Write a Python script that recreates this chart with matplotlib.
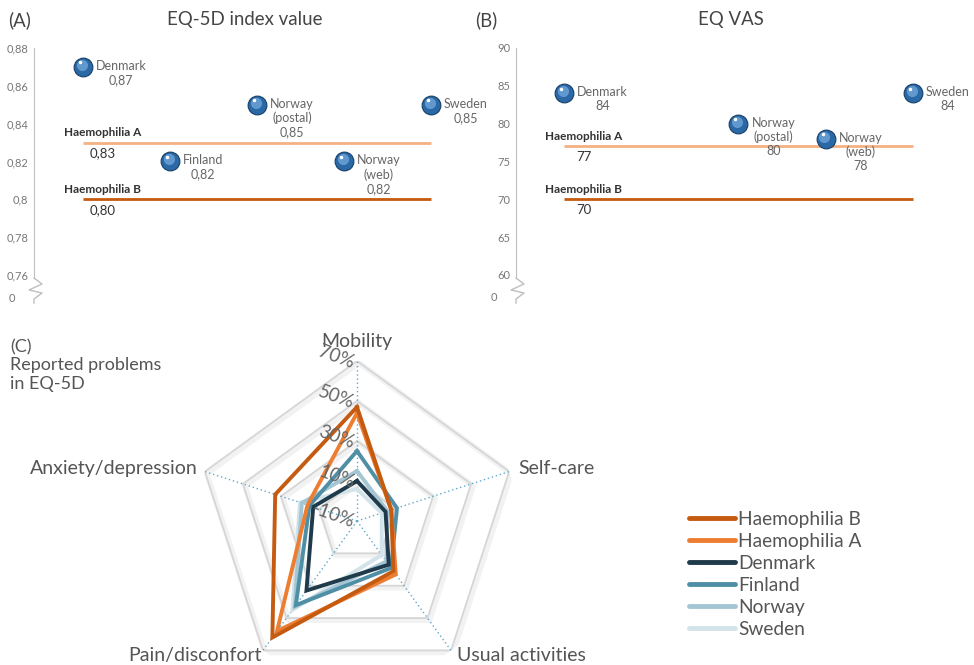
import matplotlib
matplotlib.use('Agg')
import matplotlib.pyplot as plt
import matplotlib.transforms as mtransforms
import matplotlib.patheffects as pe
from matplotlib.lines import Line2D
import numpy as np

plt.rcParams['font.family'] = ['Lato', 'DejaVu Sans']

# (A) EQ-5D index value / (B) EQ VAS
sites = ['Denmark', 'Finland', 'Norway\n(postal)', 'Norway\n(web)', 'Sweden']
index_values = [0.87, 0.82, 0.85, 0.82, 0.85]
vas_values = [84, None, 80, 78, 84]          # no VAS for Finland
haemo_groups = ['Haemophilia A', 'Haemophilia B']
haemo_index = [0.83, 0.80]
haemo_vas = [77, 70]
haemo_colors = ['#F4B183', '#C55A11']

index_ticks = [0.76, 0.78, 0.80, 0.82, 0.84, 0.86, 0.88]
index_ticklabels = ['0,76', '0,78', '0,8', '0,82', '0,84', '0,86', '0,88']
vas_ticks = [60, 65, 70, 75, 80, 85, 90]

# (C) reported problems (%)
dimensions = ['Mobility', 'Self-care', 'Usual activities', 'Pain/disconfort', 'Anxiety/depression']
groups = ['Haemophilia B', 'Haemophilia A', 'Denmark', 'Finland', 'Norway', 'Sweden']
haemo_b = [47, 8, 21, 62, 33]
haemo_a = [44, 8, 23, 58, 16]
denmark = [10, 5, 17, 33, 13]
finland = [25, 11, 19, 42, 15]
norway = [15, 6, 15, 43, 19]
sweden = [6, 3, 11, 45, 20]
group_colors = ['#C55A11', '#ED7D31', '#1F3A4A', '#4F8FA6', '#A4C6D4', '#D2E3EA']
radar_rings = [-10, 10, 30, 50, 70]

W, H = 974, 665
fig = plt.figure(figsize=(W / 100, H / 100), dpi=100)


def fx(px):
    return px / W


def fy(py):
    return 1 - py / H


def sphere(ax, x, y):
    ax.plot(x, y, 'o', ms=13.5, mfc='#2B68A6', mec='#173F68', mew=0.8, zorder=5)
    tr = mtransforms.offset_copy(ax.transData, fig=fig, x=-1, y=1.5, units='points')
    ax.plot(x, y, 'o', ms=8, mfc='#6FA6DA', mec='none', alpha=0.8, transform=tr, zorder=6)
    tr2 = mtransforms.offset_copy(ax.transData, fig=fig, x=-2.2, y=3.2, units='points')
    ax.plot(x, y, 'o', ms=2.5, mfc='white', mec='none', transform=tr2, zorder=7)


def scatter_panel(rect, xlim, ylim, values, fmt, ticks, ticklabels, hvals, zero_y, zig_top):
    ax = fig.add_axes(rect)
    ax.set_xlim(*xlim)
    ax.set_ylim(*ylim)
    for s in ['top', 'right', 'bottom']:
        ax.spines[s].set_visible(False)
    ax.spines['left'].set_color('#BFBFBF')
    ax.spines['left'].set_bounds(zig_top, ylim[1])
    ax.set_xticks([])
    ax.set_yticks(ticks)
    ax.set_yticklabels(ticklabels)
    ax.tick_params(axis='y', length=0, labelsize=8, labelcolor='#777777', pad=4)
    ax.text(-0.05, zero_y, '0', transform=mtransforms.blended_transform_factory(ax.transAxes, ax.transData),
            fontsize=8, color='#777777', ha='center', va='center')

    for name, val, col in zip(haemo_groups, hvals, haemo_colors):
        ax.hlines(val, 1, 5, color=col, lw=2, zorder=2)
        ax.annotate(name, xy=(1, val), xytext=(-19, 10), textcoords='offset pixels',
                    ha='left', va='center', fontsize=8.5, fontweight='bold', color='#333333')
        ax.annotate(fmt(val), xy=(1, val), xytext=(20, -11), textcoords='offset pixels',
                    ha='center', va='center', fontsize=9.5, color='#333333')

    for i, (name, val) in enumerate(zip(sites, values)):
        if val is None:
            continue
        sphere(ax, i + 1, val)
        ax.annotate(name + '\n' + fmt(val), xy=(i + 1, val), xytext=(13, 7),
                    textcoords='offset pixels', ha='left', va='top', ma='center',
                    fontsize=9, color='#666666', linespacing=1.2, annotation_clip=False)
    return ax


# panel A
axA = scatter_panel([fx(34), fy(302), (470 - 34) / W, 254 / H], (0.437, 5.448), (0.7457, 0.88),
                    index_values, lambda v: f'{v:.2f}'.replace('.', ','),
                    index_ticks, index_ticklabels, haemo_index, 0.7478, 0.7584)
# panel B
axB = scatter_panel([fx(516), fy(302), (960 - 516) / W, 254 / H], (0.450, 5.539), (56.43, 90),
                    vas_values, lambda v: f'{v:d}',
                    vas_ticks, [str(t) for t in vas_ticks], haemo_vas, 56.96, 59.6)

# broken-axis zigzags
for sx in [34, 516]:
    zx = [sx, sx + 8, sx - 5, sx + 8, sx, sx]
    zy = [278, 284, 290, 293, 299, 303]
    fig.add_artist(Line2D([fx(v) for v in zx], [fy(v) for v in zy], color='#BFBFBF', lw=1))

fig.text(fx(8), fy(20), '(A)', fontsize=13.4, color='#444444', ha='left', va='center')
fig.text(fx(245), fy(20), 'EQ-5D index value', fontsize=13.4, color='#444444', ha='center', va='center')
fig.text(fx(475), fy(20), '(B)', fontsize=13.4, color='#444444', ha='left', va='center')
fig.text(fx(731), fy(20), 'EQ VAS', fontsize=13.4, color='#444444', ha='center', va='center')

# panel C radar
axC = fig.add_axes([fx(197), fy(681), 320 / W, 320 / H], projection='polar')
axC.set_theta_offset(np.pi / 2)
axC.set_theta_direction(-1)
axC.set_ylim(-10, 70)
axC.axis('off')

angles = np.linspace(0, 2 * np.pi, len(dimensions), endpoint=False)
closed = np.append(angles, angles[0])

ring_shadow = [pe.SimpleLineShadow(offset=(1.5, -1.5), shadow_color='#888888', alpha=0.1, linewidth=4),
               pe.Normal()]
for r in radar_rings[1:]:
    axC.plot(closed, [r] * len(closed), color='#D6D6D6', lw=1.3, zorder=1, path_effects=ring_shadow)
for a in angles:
    axC.plot([a, a], [-10, 70], color='#5FA8C8', lw=1, ls=(0, (1, 2)), zorder=1.5)

series = [haemo_b, haemo_a, denmark, finland, norway, sweden]
for vals, col in list(zip(series, group_colors))[::-1]:
    axC.plot(closed, vals + vals[:1], color=col, lw=2.8, zorder=3, solid_joinstyle='miter')

for r in radar_rings:
    axC.annotate(f'{r}%', xy=(0, r), xytext=(-3, -2), textcoords='offset pixels',
                 ha='right', va='center', rotation=-20, rotation_mode='anchor',
                 fontsize=13.5, color='#666666', zorder=4)

label_offsets = [(0, 20), (9, 3), (6, -5), (-1, -5), (-7, 3)]
label_ha = ['center', 'left', 'left', 'right', 'right']
for a, dim, off, ha in zip(angles, dimensions, label_offsets, label_ha):
    axC.annotate(dim, xy=(a, 70), xytext=off, textcoords='offset pixels', ha=ha, va='center',
                 fontsize=14, color='#555555', annotation_clip=False)

fig.text(fx(10), fy(339), '(C)\nReported problems\nin EQ-5D', fontsize=13, color='#555555',
         ha='left', va='top', linespacing=1.17)

handles = [Line2D([0], [0], color=c, lw=3.5, solid_capstyle='round') for c in group_colors]
fig.legend(handles, groups, loc='upper left', bbox_to_anchor=(fx(689), fy(511)), frameon=False,
           fontsize=13.8, handlelength=2.4, handletextpad=0.15, labelspacing=0.26,
           borderaxespad=0, borderpad=0, labelcolor='#555555')

fig.savefig('out.png', dpi=100)
